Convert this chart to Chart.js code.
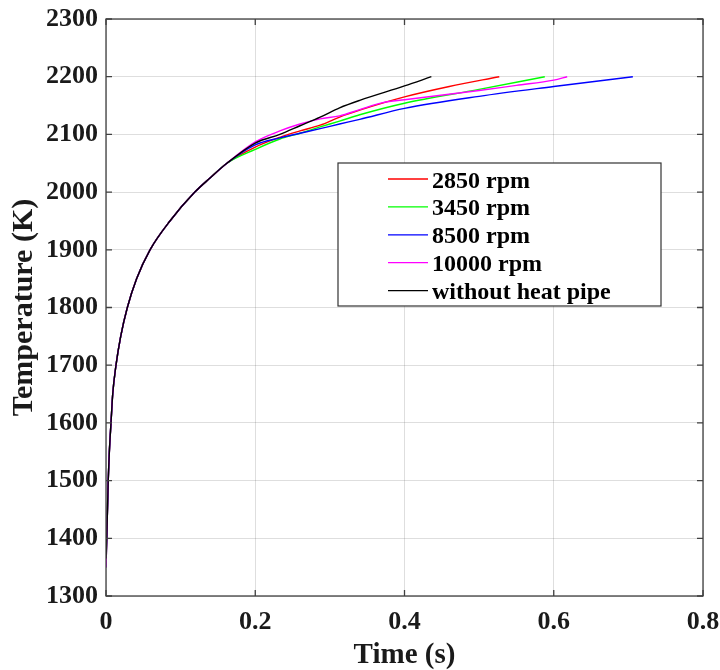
<!DOCTYPE html>
<html>
<head>
<meta charset="utf-8">
<script src="https://cdn.jsdelivr.net/npm/chart.js@4.4.1/dist/chart.umd.min.js"></script>
<style>
  html, body { margin: 0; padding: 0; background: #ffffff; }
  #wrap { width: 720px; height: 670px; }
</style>
</head>
<body>
<div id="wrap"><canvas id="c" width="720" height="670"></canvas></div>
<script>
// ---------------- DATA ----------------
const seriesLabels = ['2850 rpm', '3450 rpm', '8500 rpm', '10000 rpm', 'without heat pipe'];

const t2850 = [0, 0.001, 0.003, 0.0045, 0.0067, 0.009, 0.0134, 0.0197, 0.0286, 0.041, 0.059, 0.0857, 0.119, 0.139, 0.162, 0.2, 0.233, 0.26, 0.287, 0.313, 0.34, 0.4, 0.46, 0.527];
const T2850 = [1350, 1400, 1500, 1550, 1600, 1650, 1700, 1750, 1800, 1850, 1900, 1950, 2000, 2024, 2050, 2078, 2095, 2106, 2116, 2130, 2142, 2165, 2183, 2200];

const t3450 = [0, 0.001, 0.003, 0.0045, 0.0067, 0.009, 0.0134, 0.0197, 0.0286, 0.041, 0.059, 0.0857, 0.119, 0.139, 0.162, 0.2, 0.233, 0.26, 0.287, 0.313, 0.34, 0.4, 0.5, 0.588];
const T3450 = [1350, 1400, 1500, 1550, 1600, 1650, 1700, 1750, 1800, 1850, 1900, 1950, 2000, 2024, 2050, 2074, 2092, 2102, 2113, 2123, 2134, 2154, 2178, 2200];

const t8500 = [0, 0.001, 0.003, 0.0045, 0.0067, 0.009, 0.0134, 0.0197, 0.0286, 0.041, 0.059, 0.0857, 0.119, 0.139, 0.162, 0.2, 0.233, 0.26, 0.287, 0.313, 0.34, 0.4, 0.5, 0.6, 0.706];
const T8500 = [1350, 1400, 1500, 1550, 1600, 1650, 1700, 1750, 1800, 1850, 1900, 1950, 2000, 2024, 2050, 2082, 2094, 2102, 2110, 2118, 2126, 2145, 2166, 2183, 2200];

const t10000 = [0, 0.001, 0.003, 0.0045, 0.0067, 0.009, 0.0134, 0.0197, 0.0286, 0.041, 0.059, 0.0857, 0.119, 0.139, 0.162, 0.2, 0.233, 0.26, 0.287, 0.313, 0.34, 0.371, 0.4, 0.5, 0.55, 0.6, 0.618];
const T10000 = [1350, 1400, 1500, 1550, 1600, 1650, 1700, 1750, 1800, 1850, 1900, 1950, 2000, 2024, 2050, 2087, 2106, 2118, 2127, 2132, 2143, 2155, 2160, 2176, 2185, 2194, 2200];

const tNoPipe = [0, 0.001, 0.003, 0.0045, 0.0067, 0.009, 0.0134, 0.0197, 0.0286, 0.041, 0.059, 0.0857, 0.119, 0.139, 0.162, 0.2, 0.233, 0.26, 0.287, 0.313, 0.34, 0.4, 0.436];
const TNoPipe = [1365, 1400, 1500, 1550, 1600, 1650, 1700, 1750, 1800, 1850, 1900, 1950, 2000, 2024, 2050, 2085, 2100, 2115, 2130, 2146, 2159, 2184, 2200];

const xTickValues = [0, 0.2, 0.4, 0.6, 0.8];
const xTickLabels = ['0', '0.2', '0.4', '0.6', '0.8'];
const yTickValues = [1300, 1400, 1500, 1600, 1700, 1800, 1900, 2000, 2100, 2200, 2300];
const yTickLabels = ['1300', '1400', '1500', '1600', '1700', '1800', '1900', '2000', '2100', '2200', '2300'];

const xTitle = 'Time (s)';
const yTitle = 'Temperature (K)';

// ---------------- BUILD ----------------
function pts(ts, vs) { return ts.map((t, i) => ({ x: t, y: vs[i] })); }

const colors = ['#ff0000', '#00ff00', '#0000ff', '#ff00ff', '#000000'];
const seriesT = [t2850, t3450, t8500, t10000, tNoPipe];
const seriesV = [T2850, T3450, T8500, T10000, TNoPipe];

const datasets = seriesLabels.map((lab, i) => ({
  label: lab,
  data: pts(seriesT[i], seriesV[i]),
  borderColor: colors[i],
  backgroundColor: colors[i],
  borderWidth: 1.4,
  pointRadius: 0,
  fill: false,
  cubicInterpolationMode: 'monotone',
  order: seriesLabels.length - i
}));

const FONT = '"Liberation Serif", "Times New Roman", serif';
const TEXT = '#1a1a1a';
const AXIS = '#404040';

const framePlugin = {
  id: 'frame',
  afterDatasetsDraw(chart) {
    const ctx = chart.ctx;
    const a = chart.chartArea;
    const xs = chart.scales.x, ys = chart.scales.y;
    ctx.save();
    ctx.strokeStyle = AXIS;
    ctx.lineWidth = 1.3;
    ctx.strokeRect(a.left, a.top, a.right - a.left, a.bottom - a.top);
    const tl = 6;
    ctx.beginPath();
    xTickValues.forEach(v => {
      const px = xs.getPixelForValue(v);
      ctx.moveTo(px, a.bottom); ctx.lineTo(px, a.bottom - tl);
      ctx.moveTo(px, a.top); ctx.lineTo(px, a.top + tl);
    });
    yTickValues.forEach(v => {
      const py = ys.getPixelForValue(v);
      ctx.moveTo(a.left, py); ctx.lineTo(a.left + tl, py);
      ctx.moveTo(a.right, py); ctx.lineTo(a.right - tl, py);
    });
    ctx.stroke();

    // legend box
    const L = chart.options.plugins.frame;
    const bx = a.left + L.dx, by = a.top + L.dy;
    ctx.fillStyle = '#ffffff';
    ctx.fillRect(bx, by, L.w, L.h);
    ctx.strokeStyle = '#333333';
    ctx.lineWidth = 1.2;
    ctx.strokeRect(bx, by, L.w, L.h);
    ctx.font = 'bold 24px ' + FONT;
    ctx.textAlign = 'left';
    ctx.textBaseline = 'alphabetic';
    chart.data.datasets.forEach((ds, i) => {
      const ly = by + L.first + i * L.row;
      ctx.strokeStyle = ds.borderColor;
      ctx.lineWidth = 1.3;
      ctx.beginPath();
      ctx.moveTo(bx + L.lineStart, ly);
      ctx.lineTo(bx + L.lineStart + L.lineLen, ly);
      ctx.stroke();
      ctx.fillStyle = '#000000';
      ctx.fillText(ds.label, bx + L.textX, ly + 8.5);
    });
    ctx.restore();
  }
};

new Chart(document.getElementById('c'), {
  type: 'line',
  data: { datasets },
  plugins: [framePlugin],
  options: {
    responsive: false,
    animation: false,
    devicePixelRatio: 1,
    layout: { padding: { left: 0, right: 17, top: 19, bottom: 0 } },
    plugins: {
      legend: { display: false },
      tooltip: { enabled: false },
      frame: { dx: 232, dy: 144, w: 323, h: 143, first: 16, row: 27.9, lineStart: 50, lineLen: 40, textX: 94 }
    },
    scales: {
      x: {
        type: 'linear',
        min: 0, max: 0.8,
        afterBuildTicks: s => { s.ticks = xTickValues.map(v => ({ value: v })); },
        afterFit: s => { s.height = 74; s.paddingLeft = 0; s.paddingRight = 0; },
        grid: { color: 'rgba(0,0,0,0.13)', lineWidth: 1, drawTicks: false },
        border: { display: false },
        ticks: {
          padding: 11,
          color: TEXT,
          font: { family: FONT, size: 26, weight: 'bold' },
          maxRotation: 0,
          callback: (v, i) => xTickLabels[i]
        },
        title: {
          display: true, text: xTitle, color: TEXT,
          font: { family: FONT, size: 29, weight: 'bold', lineHeight: 1 },
          padding: { top: 0, bottom: 0 }
        }
      },
      y: {
        type: 'linear',
        min: 1300, max: 2300,
        afterBuildTicks: s => { s.ticks = yTickValues.map(v => ({ value: v })); },
        afterFit: s => { s.width = 106; s.paddingTop = 0; s.paddingBottom = 0; },
        grid: { color: 'rgba(0,0,0,0.13)', lineWidth: 1, drawTicks: false },
        border: { display: false },
        ticks: {
          padding: 8,
          color: TEXT,
          font: { family: FONT, size: 26, weight: 'bold' },
          callback: (v, i) => yTickLabels[i]
        },
        title: {
          display: true, text: yTitle, color: TEXT,
          font: { family: FONT, size: 30, weight: 'bold', lineHeight: 1 },
          padding: { top: 9, bottom: 0 }
        }
      }
    }
  }
});
</script>
</body>
</html>
